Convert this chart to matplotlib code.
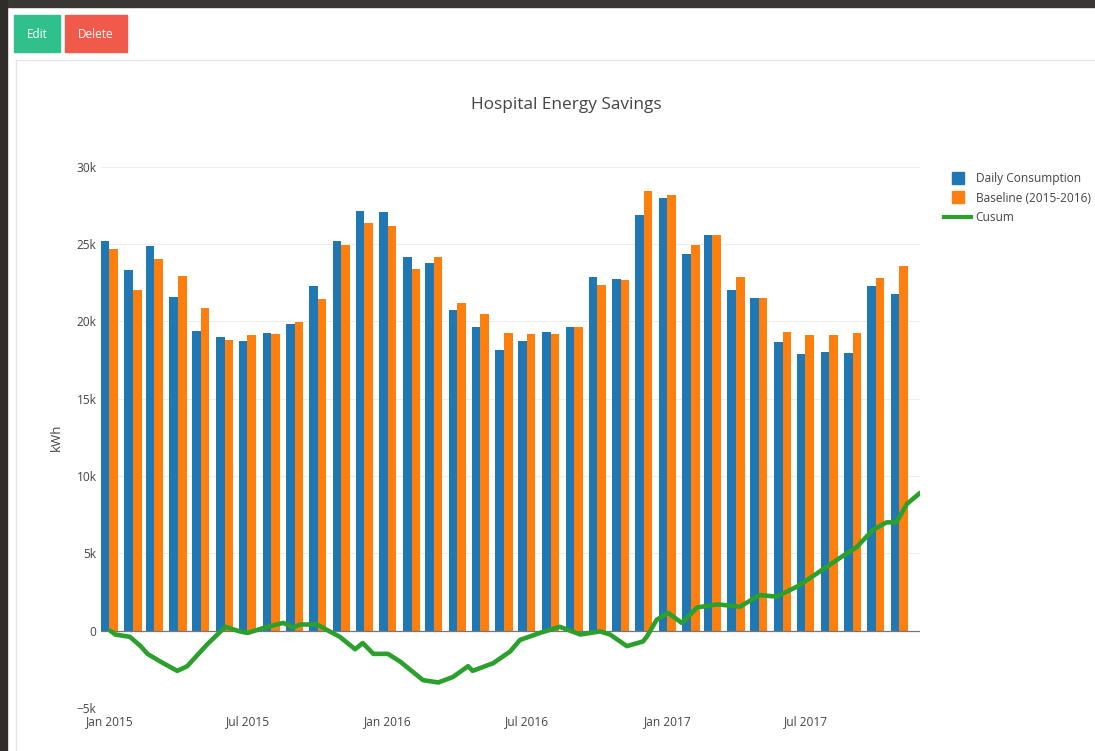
import matplotlib
matplotlib.use("Agg")
import matplotlib.pyplot as plt
import matplotlib.dates as mdates
from matplotlib.patches import Rectangle
from matplotlib.lines import Line2D
import numpy as np
import pandas as pd

plt.rcParams['font.family'] = ['Open Sans', 'DejaVu Sans']

# ---- data ----
months = pd.date_range("2015-01-01", "2017-11-01", freq="MS")
daily_consumption = [25.2, 23.3, 24.85, 21.6, 19.4, 19.0, 18.75, 19.25, 19.8, 22.3, 25.2, 27.1,
                     27.05, 24.15, 23.75, 20.7, 19.65, 18.15, 18.7, 19.3, 19.6, 22.85, 22.75, 26.85,
                     28.0, 24.35, 25.6, 22.0, 21.5, 18.65, 17.9, 18.0, 17.95, 22.3, 21.75]
baseline = [24.7, 22.0, 24.0, 22.9, 20.85, 18.8, 19.1, 19.2, 19.95, 21.45, 24.95, 26.35,
            26.15, 23.4, 24.15, 21.2, 20.5, 19.25, 19.2, 19.2, 19.65, 22.35, 22.65, 28.4,
            28.15, 24.9, 25.55, 22.85, 21.5, 19.3, 19.1, 19.1, 19.25, 22.8, 23.6]
daily_consumption = [v * 1000 for v in daily_consumption]
baseline = [v * 1000 for v in baseline]

cusum_dates = ["2015-01-02", "2015-01-09", "2015-01-28", "2015-02-11", "2015-02-20", "2015-03-09",
               "2015-03-31", "2015-04-13", "2015-05-09", "2015-06-02", "2015-06-21", "2015-07-01",
               "2015-07-27", "2015-08-17", "2015-08-30", "2015-09-08", "2015-09-30", "2015-10-13",
               "2015-10-30", "2015-11-19", "2015-11-29", "2015-12-13", "2016-01-01", "2016-01-17",
               "2016-02-16", "2016-03-07", "2016-03-26", "2016-04-15", "2016-04-21", "2016-05-18",
               "2016-06-09", "2016-06-22", "2016-07-18", "2016-08-13", "2016-09-09", "2016-10-05",
               "2016-10-18", "2016-11-09", "2016-11-30", "2016-12-05", "2016-12-18", "2017-01-02",
               "2017-01-20", "2017-02-09", "2017-03-08", "2017-04-06", "2017-05-02", "2017-05-24",
               "2017-06-20", "2017-07-16", "2017-08-15", "2017-09-06", "2017-09-27", "2017-10-15",
               "2017-10-28", "2017-11-11", "2017-11-28"]
cusum_values = [0, -0.25, -0.4, -1.0, -1.5, -2.0, -2.6, -2.3, -0.9, 0.25, -0.05, -0.15,
                0.25, 0.5, 0.2, 0.4, 0.4, 0.05, -0.4, -1.2, -0.8, -1.5, -1.5, -2.0,
                -3.2, -3.35, -3.0, -2.3, -2.6, -2.1, -1.35, -0.6, -0.15, 0.25, -0.25, -0.05,
                -0.25, -1.0, -0.7, -0.4, 0.7, 1.15, 0.5, 1.5, 1.7, 1.55, 2.3, 2.2,
                2.85, 3.7, 4.7, 5.4, 6.5, 7.0, 7.0, 8.2, 8.9]
cusum_values = [v * 1000 for v in cusum_values]

y_ticks = [-5000, 0, 5000, 10000, 15000, 20000, 25000, 30000]
y_tick_labels = ["\u22125k", "0", "5k", "10k", "15k", "20k", "25k", "30k"]
x_ticks = ["2015-01-01", "2015-07-01", "2016-01-01", "2016-07-01", "2017-01-01", "2017-07-01"]
x_tick_labels = ["Jan 2015", "Jul 2015", "Jan 2016", "Jul 2016", "Jan 2017", "Jul 2017"]

BLUE, ORANGE, GREEN = "#1f77b4", "#ff7f0e", "#2ca02c"
TXT = "#444444"

W, H = 1095, 751
fig = plt.figure(figsize=(W / 100, H / 100), dpi=100)
fig.patch.set_facecolor("white")

def px(x0, y0, w, h):
    return (x0 / W, 1 - (y0 + h) / H, w / W, h / H)

# page decorations
fig.add_artist(Rectangle(px(0, 0, W, 7)[:2], W / W, 7 / H, transform=fig.transFigure, color="#3a3634", zorder=0))
fig.add_artist(Rectangle((0, 0), 7 / W, 1, transform=fig.transFigure, color="#2f2c2a", zorder=0))
fig.add_artist(Line2D([16 / W, 1], [1 - 60 / H, 1 - 60 / H], transform=fig.transFigure, color="#e6e6e6", lw=1))
fig.add_artist(Line2D([16 / W, 16 / W], [0, 1 - 60 / H], transform=fig.transFigure, color="#e6e6e6", lw=1))
x, y, w, h = px(14, 15, 46, 37)
fig.add_artist(Rectangle((x, y), w, h, transform=fig.transFigure, color="#2fc08b"))
fig.text((14 + 23) / W, 1 - 34 / H, "Edit", color="white", fontsize=8.5, ha="center", va="center")
x, y, w, h = px(65, 15, 62, 37)
fig.add_artist(Rectangle((x, y), w, h, transform=fig.transFigure, color="#f05a4b"))
fig.text((65 + 31) / W, 1 - 34 / H, "Delete", color="white", fontsize=8.5, ha="center", va="center")

# axes
left, right, top, bottom = 100.75, 920, 166.6, 708
ax = fig.add_axes([left / W, 1 - bottom / H, (right - left) / W, (bottom - top) / H])

bw = 28 * 0.8 / 2  # days
mx = mdates.date2num(months)
ax.bar(mx - bw / 2, daily_consumption, width=bw, color=BLUE, label="Daily Consumption", zorder=2)
ax.bar(mx + bw / 2, baseline, width=bw, color=ORANGE, label="Baseline (2015-2016)", zorder=2)
ax.axhline(0, color="#777777", lw=0.9, zorder=3)
cd = mdates.date2num(pd.to_datetime(cusum_dates))
ax.plot(cd, cusum_values, color=GREEN, lw=3.3, solid_joinstyle="round", solid_capstyle="round", label="Cusum", zorder=4)

ax.set_xlim(mx[0] - bw, mdates.date2num(pd.Timestamp("2017-11-28")))
ax.set_ylim(-5000, 30000)
ax.set_yticks(y_ticks)
ax.set_yticklabels(y_tick_labels)
ax.set_xticks(mdates.date2num(pd.to_datetime(x_ticks)))
ax.set_xticklabels(x_tick_labels)
ax.tick_params(axis="both", length=0, labelsize=8.6, labelcolor=TXT)
ax.tick_params(axis="y", pad=3)
ax.tick_params(axis="x", pad=5)
ax.grid(axis="y", color="#eeeeee", lw=0.8, zorder=0)
ax.set_axisbelow(True)
for s in ax.spines.values():
    s.set_visible(False)

ax.set_ylabel("kWh", fontsize=9.5, color=TXT, labelpad=10)
fig.text(566 / W, 1 - 105 / H, "Hospital Energy Savings", fontsize=12.4, color=TXT, ha="center", va="center")

handles = [Line2D([], [], marker="s", ls="", color=BLUE, markersize=8),
           Line2D([], [], marker="s", ls="", color=ORANGE, markersize=8),
           Line2D([], [], color=GREEN, lw=3)]
fig.legend(handles, ["Daily Consumption", "Baseline (2015-2016)", "Cusum"],
           loc="upper left", bbox_to_anchor=(944 / W, 1 - 172 / H), frameon=False,
           fontsize=8.6, labelcolor=TXT, handlelength=2.3, handletextpad=0.35,
           borderpad=0, borderaxespad=0, labelspacing=0.55)

fig.savefig("out.png", dpi=100)
